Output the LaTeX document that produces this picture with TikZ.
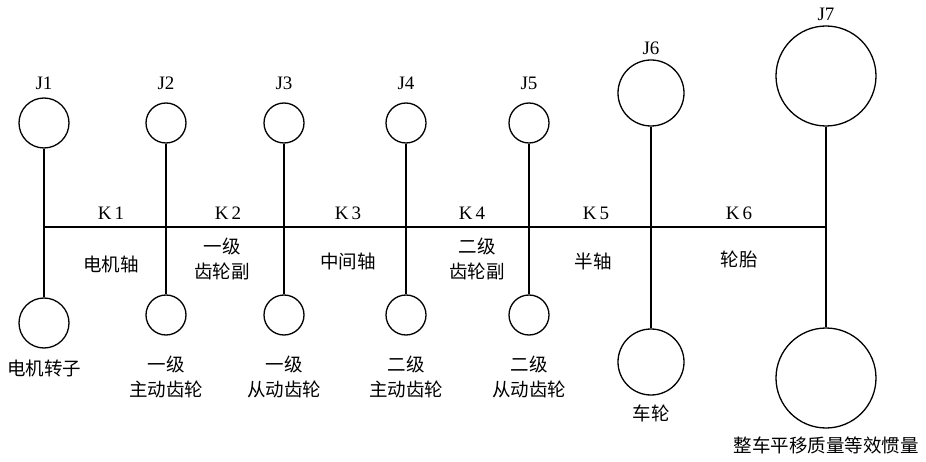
\documentclass[tikz,border=0pt]{standalone}
\usepackage{fontspec}
\setmainfont{Liberation Serif}
\newfontfamily\cjk{Noto Sans CJK SC}
\begin{document}
\begin{tikzpicture}[x=1pt,y=-1pt,
  disk/.style={draw,circle,line width=1.3pt,inner sep=0pt,minimum size=#1},
  shaft/.style={line width=1.3pt},
  lab/.style={font=\fontsize{19}{19}\selectfont,inner sep=0pt},
  zh/.style={font=\fontsize{18.5}{25}\selectfont\cjk,inner sep=0pt,align=center}]
\useasboundingbox (0,0) rectangle (926,462);
% disks
\node[disk=50pt] (J1t) at (44,123) {};
\node[disk=50pt] (J1b) at (44,323) {};
\node[disk=40pt] (J2t) at (166,123) {};
\node[disk=40pt] (J2b) at (166,315) {};
\node[disk=40pt] (J3t) at (284,123) {};
\node[disk=40pt] (J3b) at (284,315) {};
\node[disk=40pt] (J4t) at (406,123) {};
\node[disk=40pt] (J4b) at (406,315) {};
\node[disk=40pt] (J5t) at (529,123) {};
\node[disk=40pt] (J5b) at (529,315) {};
\node[disk=66pt] (J6t) at (651,93) {};
\node[disk=66pt] (J6b) at (651,362) {};
\node[disk=100pt] (J7t) at (826,76) {};
\node[disk=100pt] (J7b) at (826,378) {};
% axis junctions
\coordinate (a1) at (44,227);
\coordinate (a7) at (826,227);
% connectors
\draw[shaft] (J1t) -- (J1b);
\draw[shaft] (J2t) -- (J2b);
\draw[shaft] (J3t) -- (J3b);
\draw[shaft] (J4t) -- (J4b);
\draw[shaft] (J5t) -- (J5b);
\draw[shaft] (J6t) -- (J6b);
\draw[shaft] (J7t) -- (J7b);
\draw[shaft] (a1) -- (a7);
% J labels
\node[lab] (tJ1) at (44,83) {J1};
\node[lab] (tJ2) at (166,83) {J2};
\node[lab] (tJ3) at (284,83) {J3};
\node[lab] (tJ4) at (406,83) {J4};
\node[lab] (tJ5) at (529,83) {J5};
\node[lab] (tJ6) at (651,48) {J6};
\node[lab] (tJ7) at (826,14) {J7};
% K labels
\node[lab] (tK1) at (111,213) {K\,1};
\node[lab] (tK2) at (228,213) {K\,2};
\node[lab] (tK3) at (348,213) {K\,3};
\node[lab] (tK4) at (472,213) {K\,4};
\node[lab] (tK5) at (596,213) {K\,5};
\node[lab] (tK6) at (739,213) {K\,6};
% shaft names
\node[zh] (s1) at (111,264) {电机轴};
\node[zh] (s2) at (222,259) {一级\\齿轮副};
\node[zh] (s3) at (348,261) {中间轴};
\node[zh] (s4) at (477,259) {二级\\齿轮副};
\node[zh] (s5) at (593,261) {半轴};
\node[zh] (s6) at (739,259) {轮胎};
% disk names
\node[zh] (n1) at (44,368) {电机转子};
\node[zh] (n2) at (166,377) {一级\\主动齿轮};
\node[zh] (n3) at (284,377) {一级\\从动齿轮};
\node[zh] (n4) at (406,377) {二级\\主动齿轮};
\node[zh] (n5) at (529,377) {二级\\从动齿轮};
\node[zh] (n6) at (651,413) {车轮};
\node[zh] (n7) at (826,445) {整车平移质量等效惯量};
\end{tikzpicture}
\end{document}
